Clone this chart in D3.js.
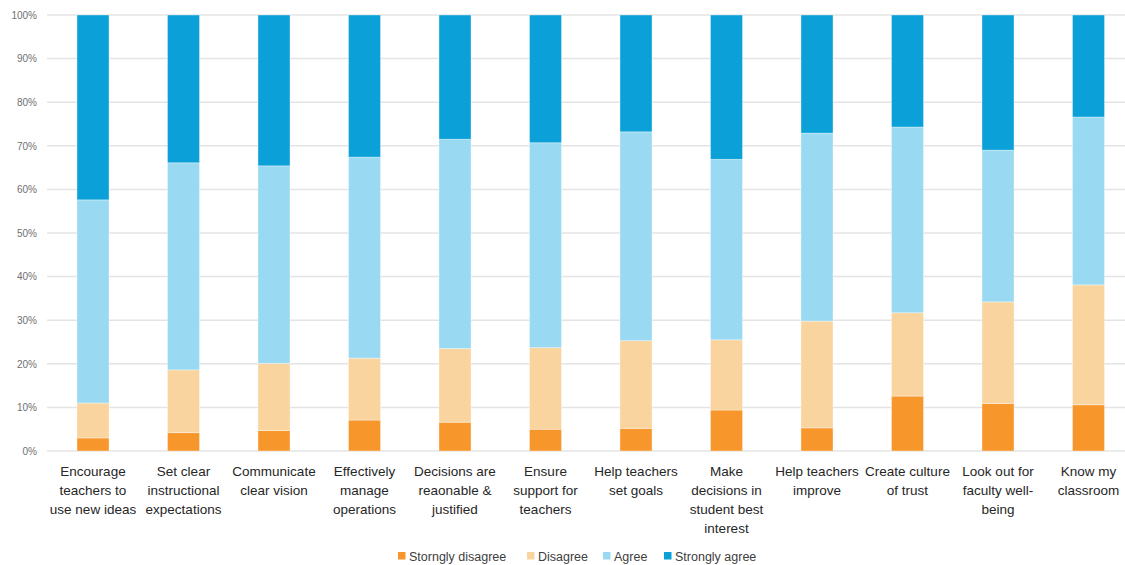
<!DOCTYPE html>
<html>
<head>
<meta charset="utf-8">
<script src="https://cdn.jsdelivr.net/npm/d3@7"></script>
<style>
  html, body { margin: 0; padding: 0; background: #fff; }
  svg { display: block; }
</style>
</head>
<body>
<svg id="chart" width="1125" height="565"></svg>
<script>
// Survey items (line breaks follow the wrapped axis labels)
const categories = [
  "Encourage\nteachers to\nuse new ideas",
  "Set clear\ninstructional\nexpectations",
  "Communicate\nclear vision",
  "Effectively\nmanage\noperations",
  "Decisions are\nreaonable &\njustified",
  "Ensure\nsupport for\nteachers",
  "Help teachers\nset goals",
  "Make\ndecisions in\nstudent best\ninterest",
  "Help teachers\nimprove",
  "Create culture\nof trust",
  "Look out for\nfaculty well-\nbeing",
  "Know my\nclassroom"
];

const seriesNames = ["Storngly disagree", "Disagree", "Agree", "Strongly agree"];

// Share of responses (%) per item
const stronglyDisagree = [3.0, 4.2, 4.7, 7.1, 6.6, 5.0, 5.2, 9.4, 5.3, 12.6, 10.9, 10.6];
const disagree         = [8.0, 14.4, 15.4, 14.2, 16.9, 18.7, 20.1, 16.1, 24.5, 19.1, 23.3, 27.5];
const agree            = [46.6, 47.5, 45.3, 46.1, 48.0, 47.0, 47.9, 41.4, 43.1, 42.6, 34.8, 38.5];
const stronglyAgree    = [42.4, 33.9, 34.6, 32.6, 28.5, 29.3, 26.8, 33.1, 27.1, 25.7, 31.0, 23.4];

const yTicks = [0, 10, 20, 30, 40, 50, 60, 70, 80, 90, 100];

const colors = ["#F7962B", "#F9D49E", "#9AD9F2", "#0BA1D8"];

const rows = categories.map((c, i) => ({
  category: c,
  "Storngly disagree": stronglyDisagree[i],
  "Disagree": disagree[i],
  "Agree": agree[i],
  "Strongly agree": stronglyAgree[i]
}));

const svg = d3.select("#chart");
const font = "'Liberation Sans', Arial, sans-serif";

const x = d3.scaleBand()
  .domain(categories)
  .range([47.75, 1133.75])
  .paddingInner(0.646)
  .paddingOuter(0.323);

const y = d3.scaleLinear().domain([0, 100]).range([451, 15]);

// Horizontal gridlines
svg.append("g")
  .selectAll("line")
  .data(yTicks)
  .join("line")
  .attr("x1", 47)
  .attr("x2", 1125)
  .attr("y1", d => y(d))
  .attr("y2", d => y(d))
  .attr("stroke", "#E4E4E4")
  .attr("stroke-width", 1.5);

// Y axis labels
const yAxis = svg.append("g")
  .attr("transform", "translate(40,0)")
  .call(d3.axisLeft(y).tickValues(yTicks).tickFormat(d => d + "%").tickSize(0).tickPadding(3));
yAxis.select(".domain").remove();
yAxis.selectAll("text")
  .attr("font-family", font)
  .attr("font-size", 10)
  .attr("fill", "#707070");

// Stacked bars
const stacked = d3.stack().keys(seriesNames)(rows);

svg.append("g")
  .selectAll("g")
  .data(stacked)
  .join("g")
  .attr("fill", (d, i) => colors[i])
  .selectAll("rect")
  .data(d => d)
  .join("rect")
  .attr("x", d => x(d.data.category))
  .attr("width", x.bandwidth())
  .attr("y", d => y(d[1]))
  .attr("height", d => y(d[0]) - y(d[1]))
  .attr("stroke", "rgba(255,255,255,0.45)")
  .attr("stroke-width", 0.8);

// Category labels under the bars
const xLabels = svg.append("g")
  .selectAll("text")
  .data(categories)
  .join("text")
  .attr("x", d => x(d) + x.bandwidth() / 2)
  .attr("y", 476)
  .attr("text-anchor", "middle")
  .attr("font-family", font)
  .attr("font-size", 13.5)
  .attr("fill", "#262626");

xLabels.selectAll("tspan")
  .data(d => d.split("\n"))
  .join("tspan")
  .attr("x", function() { return d3.select(this.parentNode).attr("x"); })
  .attr("dy", (d, i) => i === 0 ? 0 : 19)
  .text(d => d);

// Legend
const legendX = [398, 527, 603, 664];
const legend = svg.append("g")
  .selectAll("g")
  .data(seriesNames)
  .join("g")
  .attr("transform", (d, i) => `translate(${legendX[i]},556)`);

legend.append("rect")
  .attr("x", 0)
  .attr("y", -4)
  .attr("width", 7.5)
  .attr("height", 7.5)
  .attr("fill", (d, i) => colors[i]);

legend.append("text")
  .attr("x", 11)
  .attr("y", 4.5)
  .attr("font-family", font)
  .attr("font-size", 12.5)
  .attr("fill", "#404040")
  .text(d => d);
</script>
</body>
</html>
